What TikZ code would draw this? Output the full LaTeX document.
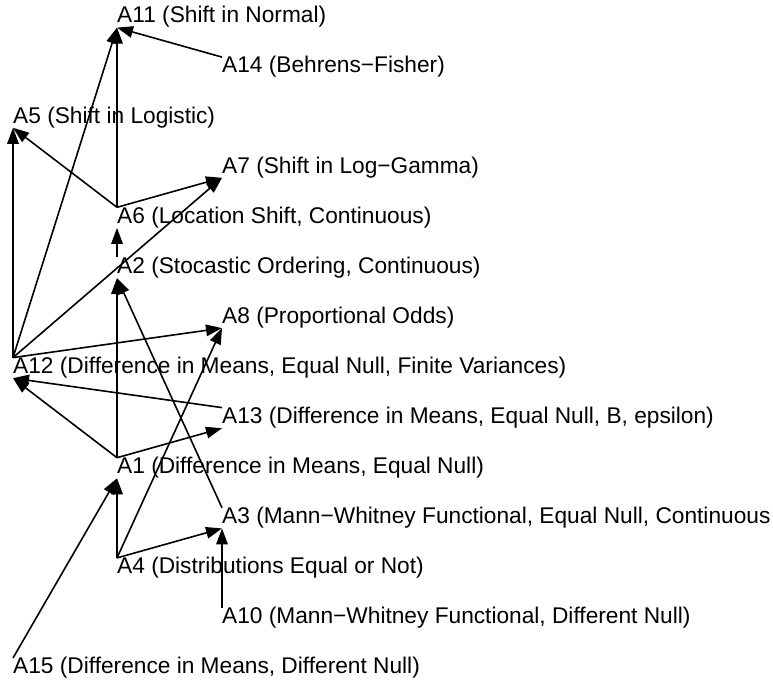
\documentclass[tikz,border=0pt]{standalone}
\usepackage{fontspec}
\setmainfont{Liberation Sans}
\usetikzlibrary{arrows.meta}

\begin{document}
\begin{tikzpicture}[x=1pt, y=-1pt, >={Triangle[length=16pt,width=11.5pt]},
lab/.style={anchor=north west, inner sep=0pt, text height=15.6pt, text depth=4.6pt,
  font=\fontsize{22.7}{27}\selectfont},
edge/.style={->, line width=1.6pt}]

\useasboundingbox (0,0) rectangle (773,681);
\clip (0,0) rectangle (773,681);

% labels, one row each
\node[lab] (a11) at (117, 7) {A11 (Shift in Normal)};
\node[lab] (a14) at (222, 57.1) {A14 (Behrens−Fisher)};
\node[lab] (a5) at (13, 107.2) {A5 (Shift in Logistic)};
\node[lab] (a7) at (222, 157.2) {A7 (Shift in Log−Gamma)};
\node[lab] (a6) at (117, 207.3) {A6 (Location Shift, Continuous)};
\node[lab] (a2) at (117, 257.4) {A2 (Stocastic Ordering, Continuous)};
\node[lab] (a8) at (222, 307.5) {A8 (Proportional Odds)};
\node[lab] (a12) at (13, 357.6) {A12 (Difference in Means, Equal Null, Finite Variances)};
\node[lab] (a13) at (222, 407.6) {A13 (Difference in Means, Equal Null, B, epsilon)};
\node[lab] (a1) at (117, 457.7) {A1 (Difference in Means, Equal Null)};
\node[lab] (a3) at (222, 507.8) {A3 (Mann−Whitney Functional, Equal Null, Continuous};
\node[lab] (a4) at (117, 557.9) {A4 (Distributions Equal or Not)};
\node[lab] (a10) at (222, 608) {A10 (Mann−Whitney Functional, Different Null)};
\node[lab] (a15) at (13, 658) {A15 (Difference in Means, Different Null)};

% edges leave from the top, arrive at the bottom
\draw[edge] (a14.north west) -- (a11.south west);
\draw[edge] (a6.north west) -- (a11.south west);
\draw[edge] (a12.north west) -- (a11.south west);
\draw[edge] (a6.north west) -- (a5.south west);
\draw[edge] (a12.north west) -- (a5.south west);
\draw[edge] (a6.north west) -- (a7.south west);
\draw[edge] (a12.north west) -- (a7.south west);
\draw[edge] (a2.north west) -- (a6.south west);
\draw[edge] (a1.north west) -- (a2.south west);
\draw[edge] (a3.north west) -- (a2.south west);
\draw[edge] (a12.north west) -- (a8.south west);
\draw[edge] (a4.north west) -- (a8.south west);
\draw[edge] (a13.north west) -- (a12.south west);
\draw[edge] (a1.north west) -- (a12.south west);
\draw[edge] (a1.north west) -- (a13.south west);
\draw[edge] (a4.north west) -- (a1.south west);
\draw[edge] (a15.north west) -- (a1.south west);
\draw[edge] (a4.north west) -- (a3.south west);
\draw[edge] (a10.north west) -- (a3.south west);

\end{tikzpicture}
\end{document}
